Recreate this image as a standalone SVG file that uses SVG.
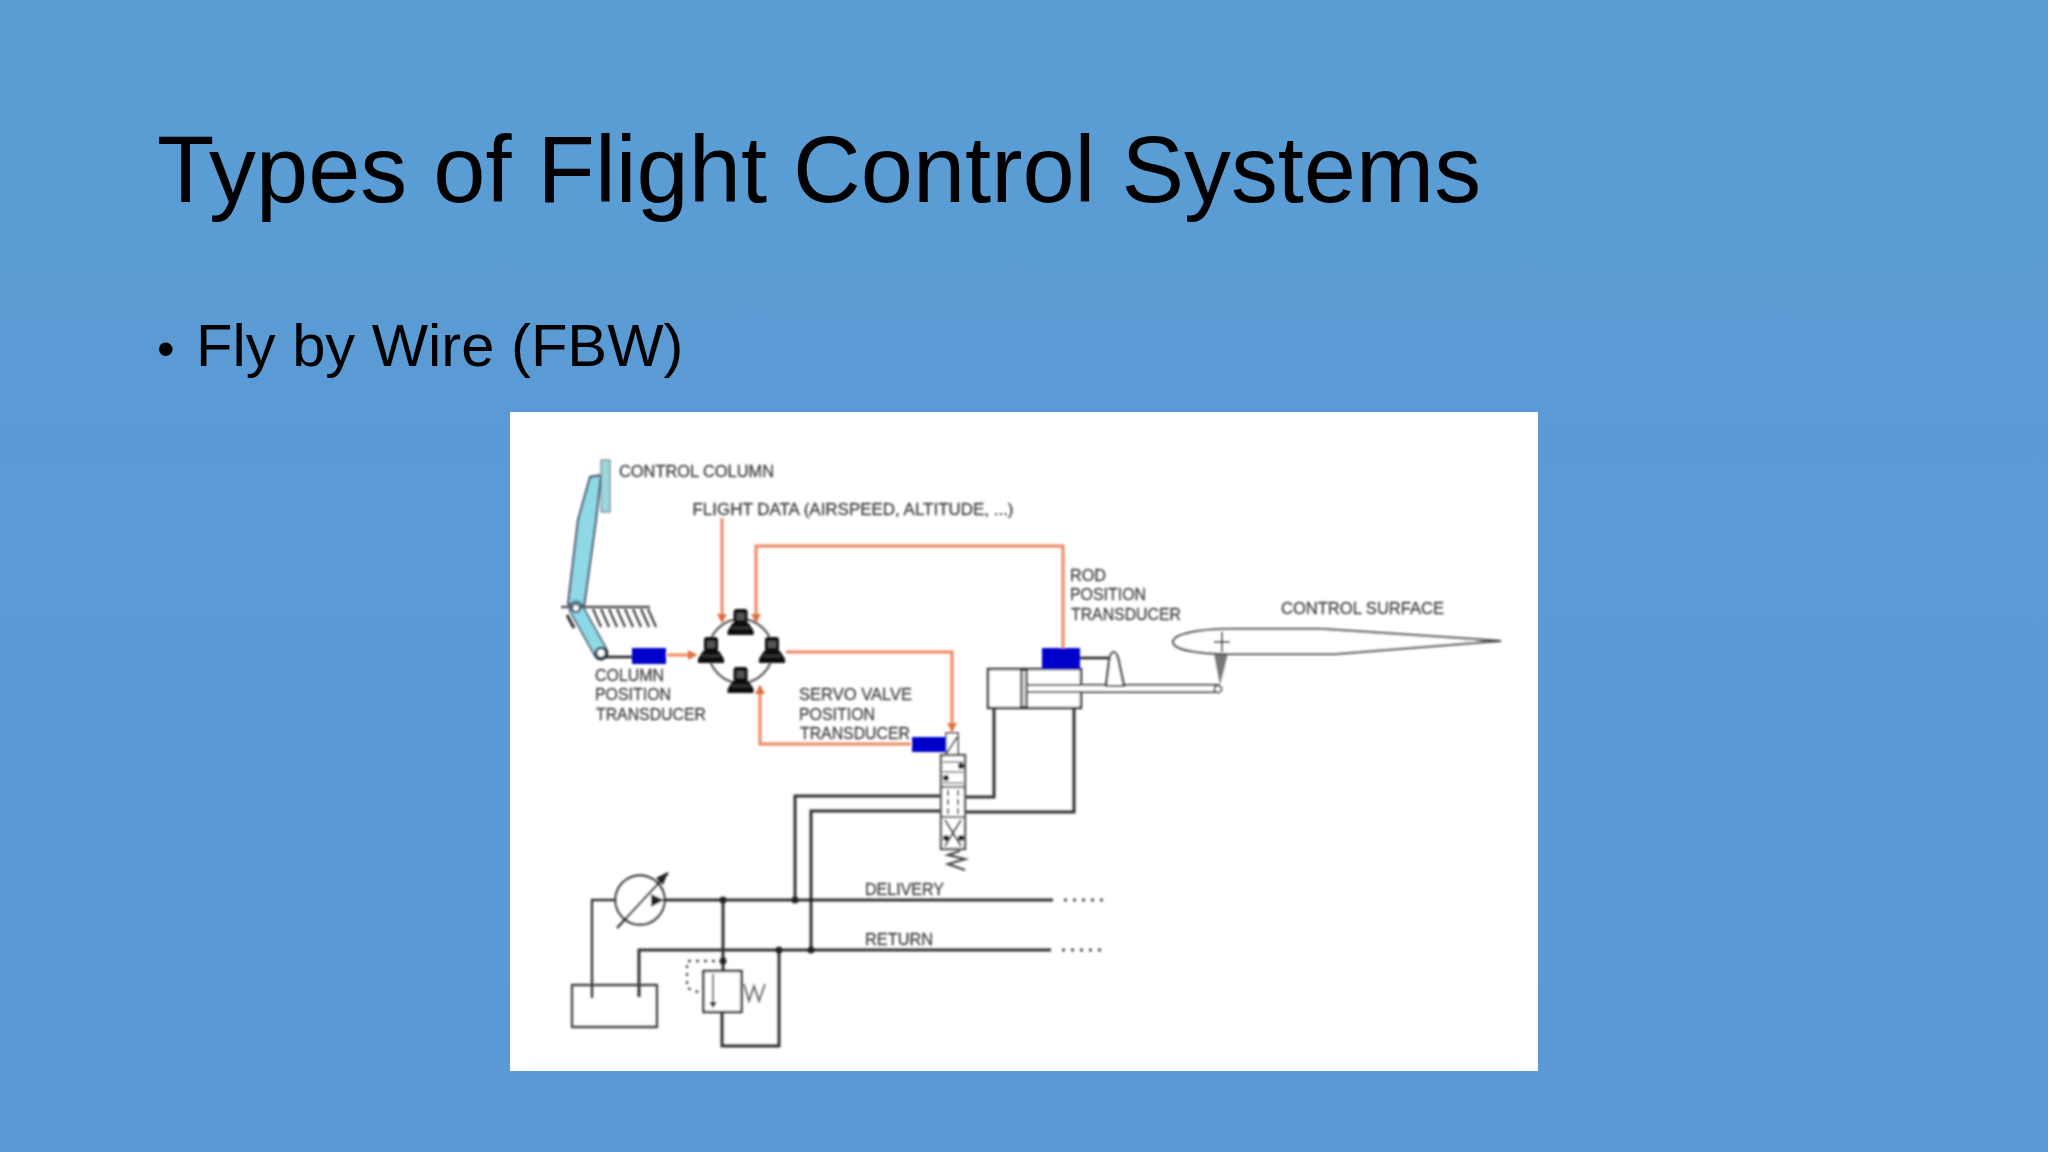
<svg xmlns="http://www.w3.org/2000/svg" width="2048" height="1152" viewBox="0 0 2048 1152">
<style>
.t{font-family:"Liberation Sans",Arial,sans-serif;fill:#000}
.l{font-family:"Liberation Sans",Arial,sans-serif;font-size:16px;fill:#444;stroke:#444;stroke-width:.3}
.o{fill:none;stroke:#ee8660;stroke-width:3}
.h{fill:none;stroke:#333;stroke-width:3}
.b{fill:none;stroke:#333;stroke-width:2.3}
.s{fill:#0000cc}
.d{fill:#222}
</style>
<defs>
<linearGradient id="bg" x1="0" y1="0" x2="0" y2="1"><stop offset="0" stop-color="#5a9dd4"/><stop offset="1" stop-color="#5c97d6"/></linearGradient>
<filter id="soft" x="-2%" y="-2%" width="104%" height="104%"><feGaussianBlur stdDeviation="0.8"/></filter>
<marker id="arr" markerWidth="11" markerHeight="10" refX="8" refY="5" orient="auto" markerUnits="userSpaceOnUse"><path d="M0 0L9 5L0 10Z" fill="#e0703c"/></marker>
<g id="pc"><rect x="-7" y="-13" width="14" height="15" rx="3" fill="#111"/><rect x="-4" y="-9" width="8" height="7" fill="#555"/><path d="M-8 1H8L13 9V13H-13V9Z" fill="#0a0a0a"/><path d="M-9 6H9" stroke="#666" stroke-width="1"/></g>
</defs>
<rect width="2048" height="1152" fill="url(#bg)"/>
<text class="t" x="157" y="202" font-size="93.8">Types of Flight Control Systems</text>
<text class="t" y="366" font-size="59.7"><tspan x="157" font-size="50">•</tspan><tspan x="196">Fly by Wire (FBW)</tspan></text>
<rect x="510" y="412" width="1028" height="659" fill="#fff"/>
<g filter="url(#soft)">
<g id="connectors">
<path class="o" marker-end="url(#arr)" d="M722 518V622"/>
<path class="o" marker-end="url(#arr)" d="M1063 649V546H756V622"/>
<path class="o" marker-end="url(#arr)" d="M667 655H696"/>
<path class="o" marker-end="url(#arr)" d="M786 652H952V731"/>
<path class="o" marker-end="url(#arr)" d="M911 744H760V686"/>
<path class="h" d="M994 708V797H965M1074 708V812H965"/>
<path class="h" d="M941 796H795V900M941 811H811V950"/>
<path class="h" d="M664 900H1053M639 997V950H1051M723 900V971M722 1012V1046H779V950"/>
<path class="b" d="M616 900H592V998"/>
<path d="M1064 900H1108M1062 950H1104" fill="none" stroke="#555" stroke-width="3" stroke-dasharray="3 6"/>
<path d="M723 961H687V988L701 993" fill="none" stroke="#555" stroke-width="2.4" stroke-dasharray="3 5"/>
<circle class="d" cx="723" cy="900" r="3.5"/><circle class="d" cx="795" cy="900" r="3.5"/><circle class="d" cx="811" cy="900" r="2"/><circle class="d" cx="723" cy="961" r="3.5"/><circle class="d" cx="779" cy="950" r="3.5"/><circle class="d" cx="811" cy="950" r="3.5"/>
</g>
<g id="control-column">
<path d="M590 477L601 475L596 520L584 607L568 604L578 520Z" fill="#8fd8e6" stroke="#335" stroke-width="1.8"/>
<rect x="601" y="460" width="9" height="52" fill="#9ad8dc" stroke="#667" stroke-width="1"/>
<path d="M576 608L601 653" stroke="#345" stroke-width="15" stroke-linecap="round"/>
<path d="M576 608L601 653" stroke="#8fd8e6" stroke-width="12" stroke-linecap="round"/>
<path d="M567 615L574 628" stroke="#333" stroke-width="3"/>
<path d="M561 607H650" stroke="#555" stroke-width="2.6"/>
<path d="M593 609l8 18M601 609l8 18M609 609l8 18M617 609l8 18M625 609l8 18M633 609l8 18M641 609l8 18M648 609l8 18" stroke="#444" stroke-width="2.2"/>
<circle cx="576" cy="608" r="4" fill="#fff" stroke="#234" stroke-width="2.2"/>
<circle cx="601" cy="653" r="5" fill="#fff" stroke="#234" stroke-width="2.6"/>
<path d="M606 657H632" stroke="#222" stroke-width="2.6"/>
</g>
<g id="column-transducer"><rect class="s" x="632" y="648" width="34" height="16"/></g>
<g id="computers">
<circle cx="740.6" cy="651" r="32" fill="none" stroke="#666" stroke-width="2.4"/>
<use href="#pc" x="740.6" y="622"/><use href="#pc" x="711" y="650"/><use href="#pc" x="772" y="650"/><use href="#pc" x="740.6" y="680"/>
</g>
<g id="servo-valve">
<rect x="946" y="733" width="12" height="23" fill="#fff" stroke="#555" stroke-width="1.8"/>
<path d="M947 753L957 737" stroke="#444" stroke-width="1.8"/>
<rect x="941" y="755" width="24" height="94" fill="#fff" stroke="#555" stroke-width="2.4"/>
<path d="M941 787H965M941 817H965" stroke="#555" stroke-width="1.8"/>
<path d="M943 762H963M943 772H963M943 783H963" stroke="#777" stroke-width="1.6"/>
<path d="M948 790V815M958 790V815" stroke="#555" stroke-width="2" stroke-dasharray="6 3"/>
<circle class="d" cx="961" cy="766" r="3"/><circle class="d" cx="946" cy="778" r="3"/>
<path d="M945 820L961 846M961 820L945 846" stroke="#444" stroke-width="2"/>
<circle class="d" cx="946" cy="838" r="3"/><circle class="d" cx="961" cy="838" r="3"/>
<path d="M960 851L948 855L965 859L948 864L965 870" fill="none" stroke="#444" stroke-width="2.2"/>
</g>
<g id="servo-transducer"><rect class="s" x="912" y="737" width="34" height="15"/></g>
<g id="actuator">
<rect x="988" y="669" width="93" height="39" fill="#fff" stroke="#333" stroke-width="2.4"/>
<rect x="1021" y="670" width="6" height="37" fill="#ccc" stroke="#222" stroke-width="2"/>
<rect x="1027" y="685" width="191" height="7" fill="#fff" stroke="#444" stroke-width="2"/>
<path d="M1106 686L1109.5 658Q1113.5 646 1118 658L1124 686Z" fill="#fff" stroke="#333" stroke-width="2.2"/>
<path d="M1080 658H1109" stroke="#222" stroke-width="2.6"/>
<rect class="s" x="1042" y="648" width="38" height="21"/>
</g>
<g id="control-surface">
<path d="M1214 653H1228L1220 685Z" fill="#777"/>
<circle cx="1218" cy="689" r="3.5" fill="#fff" stroke="#444" stroke-width="1.8"/>
<path d="M1228 629H1323L1473 639L1501 641L1473 643L1335 654H1228C1200 654 1173 650 1173 642C1173 634 1200 629 1228 629Z" fill="#fff" stroke="#444" stroke-width="2.2"/>
<path d="M1222 632V652M1214 642H1230" stroke="#333" stroke-width="2"/>
</g>
<g id="pump">
<circle cx="640" cy="900" r="24.5" fill="#fff" stroke="#333" stroke-width="2.3"/>
<path d="M617 928L668 873" stroke="#333" stroke-width="2.3"/><path d="M668 872L656 878L663 885Z" fill="#222"/>
<path d="M651 894V907L664 900Z" fill="#222"/>
</g>
<g id="tank"><path d="M572 985H657V1027H572Z" fill="none" stroke="#444" stroke-width="2.3"/></g>
<g id="relief-valve">
<rect x="703.5" y="971" width="38" height="41" fill="#fff" stroke="#333" stroke-width="2.4"/>
<path d="M713 974V1003" stroke="#555" stroke-width="1.8"/><path d="M709 1002H717L713 1008Z" fill="#222"/>
<path d="M744 984L749 1001L754 986L759 1001L765 984" fill="none" stroke="#666" stroke-width="1.8"/>
</g>
<g id="labels">
<text class="l" x="619" y="477" textLength="155" lengthAdjust="spacingAndGlyphs">CONTROL COLUMN</text>
<text class="l" x="692.5" y="515" textLength="321" lengthAdjust="spacingAndGlyphs">FLIGHT DATA (AIRSPEED, ALTITUDE, ...)</text>
<text class="l" x="595" y="681" textLength="69" lengthAdjust="spacingAndGlyphs">COLUMN</text>
<text class="l" x="595" y="700" textLength="76" lengthAdjust="spacingAndGlyphs">POSITION</text>
<text class="l" x="596" y="720" textLength="110" lengthAdjust="spacingAndGlyphs">TRANSDUCER</text>
<text class="l" x="799" y="700" textLength="113" lengthAdjust="spacingAndGlyphs">SERVO VALVE</text>
<text class="l" x="799" y="720" textLength="76" lengthAdjust="spacingAndGlyphs">POSITION</text>
<text class="l" x="800" y="739" textLength="110" lengthAdjust="spacingAndGlyphs">TRANSDUCER</text>
<text class="l" x="1070" y="581" textLength="36" lengthAdjust="spacingAndGlyphs">ROD</text>
<text class="l" x="1070" y="600" textLength="76" lengthAdjust="spacingAndGlyphs">POSITION</text>
<text class="l" x="1071" y="620" textLength="110" lengthAdjust="spacingAndGlyphs">TRANSDUCER</text>
<text class="l" x="1281" y="614" textLength="163" lengthAdjust="spacingAndGlyphs">CONTROL SURFACE</text>
<text class="l" x="865" y="895" textLength="79" lengthAdjust="spacingAndGlyphs">DELIVERY</text>
<text class="l" x="865" y="945" textLength="68" lengthAdjust="spacingAndGlyphs">RETURN</text>
</g>
</g>
</svg>
